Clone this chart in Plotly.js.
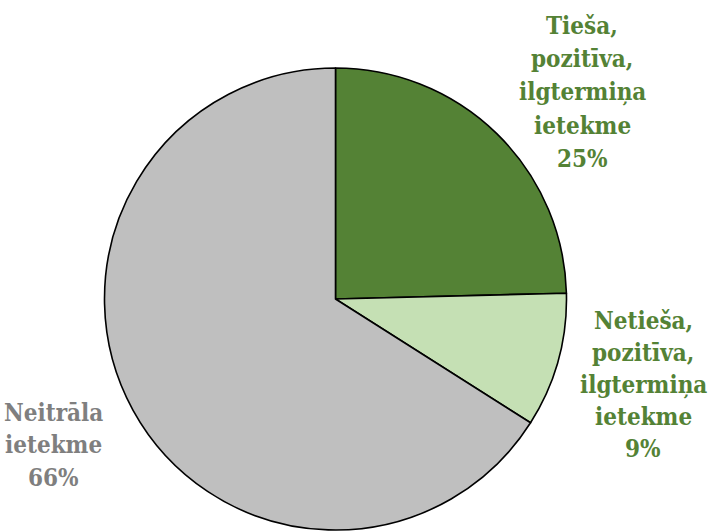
<!DOCTYPE html>
<html>
<head>
<meta charset="utf-8">
<script src="https://cdn.plot.ly/plotly-3.0.1.min.js"></script>
<style>html,body{margin:0;padding:0;background:#fff;}#chart{width:711px;height:531px;}</style>
</head>
<body>
<div id="chart"></div>
<script>
const categories = ["Tieša, pozitīva, ilgtermiņa ietekme", "Netieša, pozitīva, ilgtermiņa ietekme", "Neitrāla ietekme"];
const labelLines = [["Tieša,", "pozitīva,", "ilgtermiņa", "ietekme"], ["Netieša,", "pozitīva,", "ilgtermiņa", "ietekme"], ["Neitrāla", "ietekme"]];
const values = [24.6, 9.4, 66.0];
const percentLabels = ["25%", "9%", "66%"];
const sliceColors = ["#548235", "#C5E0B4", "#BFBFBF"];
const labelColors = ["#548235", "#548235", "#7F7F7F"];

const W = 711, H = 531;
// label block placement (pixels): center x, first line center y, line step
const labelPos = [[582, 25, 33.4], [643, 320, 32], [53, 412, 32.5]];

const annotations = [];
labelLines.forEach((lines, i) => {
  const all = lines.concat([percentLabels[i]]);
  all.forEach((t, j) => {
    annotations.push({
      text: "<b>" + t + "</b>", showarrow: false, xref: "paper", yref: "paper",
      x: labelPos[i][0] / W, y: 1 - (labelPos[i][1] + j * labelPos[i][2]) / H,
      xanchor: "center", yanchor: "middle",
      font: {family: "DejaVu Serif Condensed", size: 24, color: labelColors[i]}
    });
  });
});

const cx = 335.5, cy = 299, R = 231;
const trace = {
  type: "pie",
  labels: categories,
  values: values,
  sort: false,
  direction: "clockwise",
  rotation: 0,
  textinfo: "none",
  hoverinfo: "label+percent",
  marker: {colors: sliceColors, line: {color: "#000000", width: 1.6}},
  domain: {x: [(cx - R) / W, (cx + R) / W], y: [1 - (cy + R) / H, 1 - (cy - R) / H]}
};

Plotly.newPlot("chart", [trace], {
  width: W, height: H,
  margin: {l: 0, r: 0, t: 0, b: 0},
  paper_bgcolor: "#ffffff",
  showlegend: false,
  annotations: annotations
}, {displayModeBar: false});
</script>
</body>
</html>
